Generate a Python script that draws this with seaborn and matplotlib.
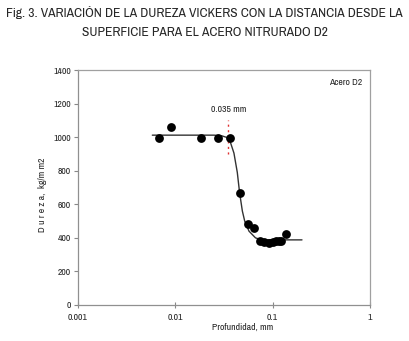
import matplotlib
matplotlib.use("Agg")
import matplotlib.pyplot as plt
import matplotlib.ticker as mticker
from matplotlib import font_manager
import seaborn as sns
import pandas as pd

# ---- data ----
profundidad = [0.0068, 0.0091, 0.0185, 0.0277, 0.0361, 0.0457, 0.0552, 0.0637,
               0.0734, 0.0807, 0.0909, 0.1000, 0.1080, 0.1150, 0.1230, 0.1380]
dureza = [994, 1060, 994, 994, 994, 670, 485, 461,
          380, 377, 368, 375, 380, 380, 380, 425]

curva_x = [0.0058, 0.015, 0.025, 0.030, 0.034, 0.037, 0.040, 0.0433, 0.0457,
           0.0488, 0.0516, 0.0571, 0.0666, 0.0751, 0.10, 0.20]
curva_y = [1012, 1012, 1012, 1008, 998, 965, 905, 790, 670,
           560, 500, 440, 400, 390, 388, 388]

marca_x = [0.035, 0.035]
marca_y = [900, 1100]

x_ticks = [0.001, 0.01, 0.1, 1]
x_tick_labels = ["0.001", "0.01", "0.1", "1"]
y_ticks = [0, 200, 400, 600, 800, 1000, 1200, 1400]

titulo_1 = "Fig. 3. VARIACIÓN DE LA DUREZA VICKERS CON LA DISTANCIA DESDE LA"
titulo_2 = "SUPERFICIE PARA EL ACERO NITRURADO D2"

sns.set_theme(style="white")
names = {f.name for f in font_manager.fontManager.ttflist}
narrow = "Archivo Narrow" if "Archivo Narrow" in names else "DejaVu Sans"
plt.rcParams['font.family'] = [narrow, 'DejaVu Sans']

fig = plt.figure(figsize=(4.09, 3.41), dpi=100)
ax = fig.add_axes([0.1907, 0.1056, 0.714, 0.689])

df_pts = pd.DataFrame({"x": profundidad, "y": dureza})
df_curve = pd.DataFrame({"x": curva_x, "y": curva_y})
df_mark = pd.DataFrame({"x": marca_x, "y": marca_y})

sns.lineplot(data=df_curve, x="x", y="y", ax=ax, color="#333333", lw=1.0,
             sort=False, estimator=None)
sns.lineplot(data=df_mark, x="x", y="y", ax=ax, color="#e03030", lw=1.0,
             sort=False, estimator=None, linestyle=(0, (1.5, 2.5)))
sns.scatterplot(data=df_pts, x="x", y="y", ax=ax, color="black", s=40,
                edgecolor="black", linewidth=0, zorder=5)

ax.set_xscale("log")
ax.set_xlim(0.001, 1)
ax.set_ylim(0, 1400)
ax.set_xticks(x_ticks)
ax.set_xticklabels(x_tick_labels)
ax.xaxis.set_minor_locator(mticker.NullLocator())
ax.set_yticks(y_ticks)
ax.tick_params(axis="x", direction="inout", length=4, width=0.8, color="#888888",
               labelsize=7, pad=4, bottom=True)
ax.tick_params(axis="y", direction="out", length=3, width=0.8, color="#888888",
               labelsize=7, pad=2, left=True)

for s in ax.spines.values():
    s.set_color("#a0a0a0")
    s.set_linewidth(0.9)
ax.spines["left"].set_color("#909090")
ax.spines["bottom"].set_color("#909090")

ax.set_xlabel("Profundidad, mm", fontsize=7)
ax.xaxis.set_label_coords(0.565, -0.075)
ax.set_ylabel("D u r e z a,  kg/m m2", fontsize=7)
ax.yaxis.set_label_coords(-0.105, 0.47)

ax.text(0.035, 1165, "0.035 mm", fontsize=7, ha="center", va="center")
ax.text(0.975, 0.965, "Acero D2", transform=ax.transAxes, fontsize=7,
        ha="right", va="top")

fig.text(0.5, 1 - 13 / 341, titulo_1, ha="center", va="center", fontsize=9.75)
fig.text(0.5, 1 - 33 / 341, titulo_2, ha="center", va="center", fontsize=9.75)

fig.savefig("out.png", dpi=100)
